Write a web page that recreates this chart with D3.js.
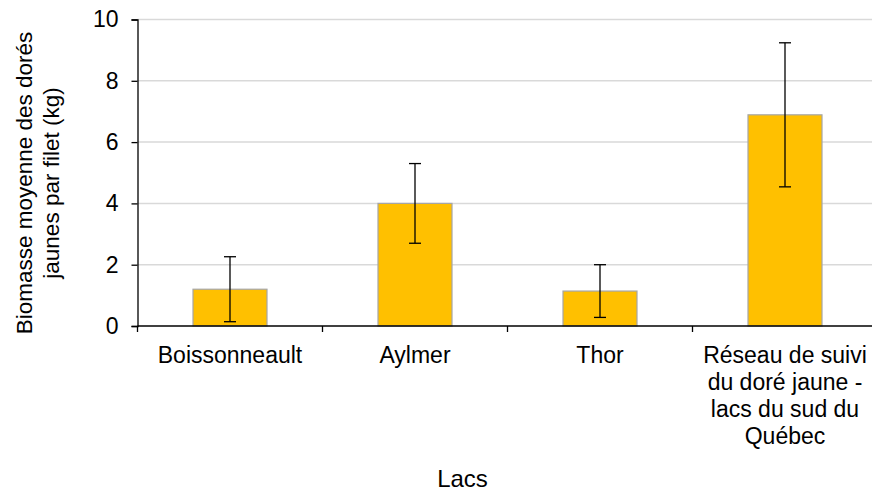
<!DOCTYPE html>
<html><head><meta charset="utf-8">
<script src="https://cdn.jsdelivr.net/npm/d3@7"></script>
<style>body{margin:0;background:#fff}svg{display:block}text{font-family:"Liberation Sans",Arial,sans-serif;fill:#000}</style>
</head><body>
<svg id="c" width="872" height="493"></svg>
<script>
const categories = ["Boissonneault", "Aylmer", "Thor", "Réseau de suivi du doré jaune - lacs du sud du Québec"];
const categoryLines = [["Boissonneault"], ["Aylmer"], ["Thor"], ["Réseau de suivi", "du doré jaune -", "lacs du sud du", "Québec"]];
const means = [1.20, 4.00, 1.14, 6.89];
const errLow = [0.14, 2.70, 0.28, 4.54];
const errHigh = [2.26, 5.30, 2.00, 9.24];
const yTicks = [0, 2, 4, 6, 8, 10];
const yTitle = ["Biomasse moyenne des dorés", "jaunes par filet (kg)"];
const xTitle = "Lacs";

const svg = d3.select("#c");
const L = 137.5, R = 877.5, T = 19.5, B = 326;
const x = d3.scaleBand().domain(categories).range([L, R]).paddingInner(0.6).paddingOuter(0.3);
const xb = d3.scaleBand().domain(categories).range([L, R]);
const y = d3.scaleLinear().domain([0, 10]).range([B, T]);

// gridlines
svg.append("g").selectAll("line").data(yTicks.filter(d => d > 0)).join("line")
  .attr("x1", L).attr("x2", 872).attr("y1", d => y(d)).attr("y2", d => y(d))
  .attr("stroke", "#d9d9d9").attr("stroke-width", 1.5);

// bars
svg.append("g").selectAll("rect").data(categories).join("rect")
  .attr("x", d => x(d)).attr("width", x.bandwidth())
  .attr("y", (d, i) => y(means[i])).attr("height", (d, i) => B - y(means[i]))
  .attr("fill", "#FFC000").attr("stroke", "#a6a6a6").attr("stroke-width", 1.2);

// error bars
const eg = svg.append("g").attr("stroke", "#000").attr("stroke-width", 1.3);
categories.forEach((c, i) => {
  const cx = x(c) + x.bandwidth() / 2;
  eg.append("line").attr("x1", cx).attr("x2", cx).attr("y1", y(errLow[i])).attr("y2", y(errHigh[i]));
  [errLow[i], errHigh[i]].forEach(v => eg.append("line").attr("x1", cx - 6).attr("x2", cx + 6).attr("y1", y(v)).attr("y2", y(v)));
});

// y axis
const ya = svg.append("g").attr("transform", `translate(${L},0)`)
  .call(d3.axisLeft(y).tickValues(yTicks).tickSize(6).tickPadding(13).tickFormat(d3.format("d")));
ya.select(".domain").attr("stroke", "#000").attr("stroke-width", 1.3);
ya.selectAll(".tick line").attr("stroke", "#000").attr("stroke-width", 1.3);
ya.selectAll("text").attr("font-size", 23).attr("font-family", "Liberation Sans, Arial, sans-serif");

// x axis
svg.append("line").attr("x1", L).attr("x2", 872).attr("y1", B).attr("y2", B).attr("stroke", "#000").attr("stroke-width", 1.3);
const tickXs = categories.map(c => xb(c)).concat([R]);
svg.append("g").selectAll("line").data(tickXs).join("line")
  .attr("x1", d => d).attr("x2", d => d).attr("y1", B).attr("y2", B + 6)
  .attr("stroke", "#000").attr("stroke-width", 1.3);

// category labels
categories.forEach((c, i) => {
  const cx = xb(c) + xb.bandwidth() / 2;
  const t = svg.append("text").attr("text-anchor", "middle").attr("font-size", 23);
  categoryLines[i].forEach((ln, j) => t.append("tspan").attr("x", cx).attr("y", 363 + j * 27).text(ln));
});

// titles
svg.append("text").attr("x", 462.5).attr("y", 487).attr("text-anchor", "middle").attr("font-size", 24).text(xTitle);
yTitle.forEach((ln, j) => svg.append("text")
  .attr("transform", `translate(${32 + j * 27},183) rotate(-90)`)
  .attr("text-anchor", "middle").attr("font-size", 22.5).text(ln));
</script>
</body></html>
